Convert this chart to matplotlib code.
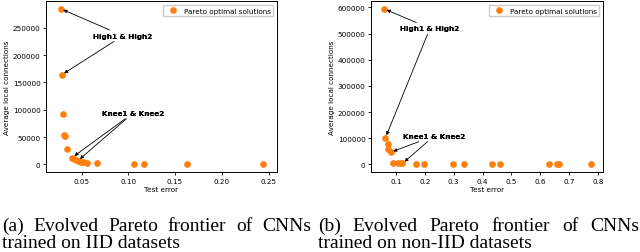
import matplotlib
matplotlib.use("Agg")
import matplotlib.pyplot as plt

# (a) IID
iid_err = [0.0277, 0.0288, 0.0302, 0.0317, 0.0328, 0.034, 0.040, 0.042, 0.044, 0.046,
           0.049, 0.052, 0.0555, 0.067, 0.106, 0.117, 0.163, 0.2436]
iid_conn = [285000, 164000, 93000, 53000, 52500, 29000, 12500, 10000, 8000, 6500,
            4800, 3500, 2800, 2300, 1200, 1100, 600, 200]
iid_high = [0, 1]
iid_knee = [6, 9]

# (b) non-IID
non_err = [0.058, 0.063, 0.071, 0.073, 0.081, 0.090, 0.106, 0.116, 0.122, 0.168,
           0.197, 0.299, 0.337, 0.434, 0.461, 0.632, 0.657, 0.666, 0.776]
non_conn = [595000, 101000, 76000, 58000, 46000, 5000, 5000, 5000, 3000, 1500,
            1200, 1000, 800, 600, 500, 400, 300, 300, 200]
non_high = [0, 1]
non_knee = [4, 8]

captions = [("(a) Evolved Pareto frontier of CNNs", "trained on IID datasets"),
            ("(b) Evolved Pareto frontier of CNNs", "trained on non-IID datasets")]

W, H = 640, 253
fig = plt.figure(figsize=(W / 100, H / 100), dpi=100)

small = 5.2
arrow = dict(arrowstyle='-|>', color='black', lw=0.6, mutation_scale=5, shrinkA=0, shrinkB=2)


def draw(ax, err, conn, high, knee, xlim, high_pos, knee_pos):
    ax.plot(err, conn, 'o', color='#ff7f0e', markersize=3.8, label='Pareto optimal solutions')
    ax.set_xlim(*xlim)
    for i in high:
        ax.annotate('High1 & High2', xy=(err[i], conn[i]), xytext=high_pos, textcoords='axes fraction',
                    ha='center', va='center', fontsize=small, fontweight='bold', arrowprops=arrow)
    for i in knee:
        ax.annotate('Knee1 & Knee2', xy=(err[i], conn[i]), xytext=knee_pos, textcoords='axes fraction',
                    ha='center', va='center', fontsize=small, fontweight='bold', arrowprops=arrow)
    ax.set_xlabel('Test error', fontsize=small, labelpad=2)
    ax.set_ylabel('Average local connections', fontsize=small, labelpad=2)
    ax.tick_params(labelsize=small, length=2.5, width=0.6, pad=1.5)
    for s in ax.spines.values():
        s.set_linewidth(0.7)
    ax.legend(loc='upper right', fontsize=small, handletextpad=0.4, borderpad=0.4,
              framealpha=1, edgecolor='#cccccc', fancybox=False)


ax1 = fig.add_axes([46 / W, 80 / H, 231 / W, 171 / H])
draw(ax1, iid_err, iid_conn, iid_high, iid_knee, (0.012, 0.259), (0.333, 0.797), (0.377, 0.345))
ax2 = fig.add_axes([371 / W, 80 / H, 232 / W, 171 / H])
draw(ax2, non_err, non_conn, non_high, non_knee, (0.013, 0.818), (0.254, 0.840), (0.272, 0.211))

# captions, first line justified like the paper
renderer = fig.canvas.get_renderer()
cap_font = dict(family='Liberation Serif', fontsize=14)


def justified(text, x0, x1, y):
    words = text.split()
    objs = [fig.text(0, y, w, va='baseline', **cap_font) for w in words]
    widths = [o.get_window_extent(renderer).width for o in objs]
    gap = (x1 - x0 - sum(widths)) / (len(words) - 1)
    x = x0
    for o, w in zip(objs, widths):
        o.set_x(x / W)
        x += w + gap


for (l1, l2), (x0, x1) in zip(captions, [(2, 311), (318, 639)]):
    justified(l1, x0, x1, 22 / H)
    fig.text(x0 / W, 5 / H, l2, va='baseline', **cap_font)

fig.savefig('out.png', dpi=100)
